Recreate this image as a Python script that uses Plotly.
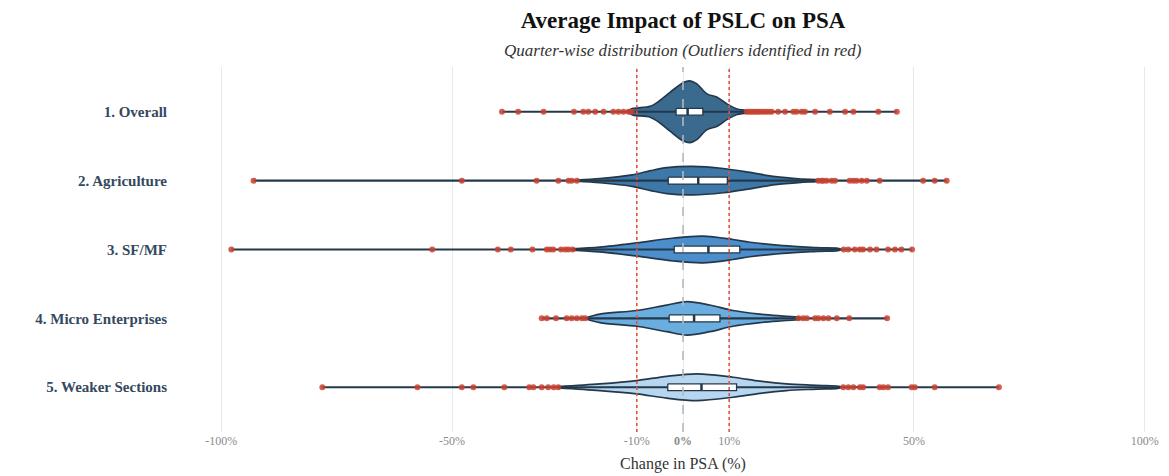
import plotly.graph_objects as go

# ---------------- data ----------------
categories = ["1. Overall", "2. Agriculture", "3. SF/MF", "4. Micro Enterprises", "5. Weaker Sections"]

q1_values = [-1.5, -3.2, -1.9, -3.0, -3.3]
median_values = [1.0, 3.3, 5.5, 2.4, 4.0]
q3_values = [4.3, 9.6, 12.3, 8.0, 11.6]

outliers_overall = [-39.2, -35.7, -30.2, -23.6, -21.6, -20.5, -19.0, -17.2, -15.1, -14.0, -12.9, -11.8, -11.1,
                    13.8, 14.3, 14.8, 15.3, 15.8, 16.3, 16.8, 17.4, 18.0, 18.6, 19.2,
                    20.6, 22.1, 23.9, 24.6, 25.7, 26.4, 28.6, 31.8, 35.1, 36.9, 42.3, 46.3]
outliers_agriculture = [-93.0, -47.9, -31.7, -27.0, -24.8, -24.1, -23.0,
                        29.3, 30.0, 30.4, 31.1, 32.2, 32.9, 36.1, 36.9, 37.6, 38.7, 39.8, 42.6, 52.0, 54.5, 57.1]
outliers_sfmf = [-97.8, -54.3, -40.1, -37.3, -32.6, -29.5, -28.8, -28.1, -26.4, -25.5, -24.8, -23.9,
                 34.8, 35.8, 37.2, 38.3, 39.0, 40.5, 41.9, 44.4, 45.9, 47.3, 49.6]
outliers_micro = [-30.6, -29.5, -27.5, -25.2, -24.1, -23.0, -21.9, -21.2,
                  25.0, 26.0, 26.8, 28.6, 29.3, 30.4, 31.5, 33.3, 36.0, 44.2]
outliers_weaker = [-78.1, -57.5, -47.9, -45.4, -38.7, -33.3, -32.4, -30.6, -29.2, -28.0, -27.0,
                   34.7, 35.8, 36.9, 38.3, 39.0, 42.6, 43.4, 44.4, 49.5, 50.2, 54.5, 68.4]
outliers = [outliers_overall, outliers_agriculture, outliers_sfmf, outliers_micro, outliers_weaker]

# violin density profiles (relative density)
density_x_overall = [-12.0, -10.8, -7.1, -5.0, -2.8, 0.0, 1.5, 3.0, 5.2, 7.4, 9.5, 11.7, 13.8]
density_overall = [0.02, 0.11, 0.18, 0.37, 0.64, 0.96, 1.02, 0.92, 0.59, 0.48, 0.26, 0.09, 0.03]
density_x_agriculture = [-23.0, -18.0, -11.0, -7.0, -3.5, 2.0, 8.7, 14.5, 20.0, 26.0, 29.3]
density_agriculture = [0.02, 0.07, 0.19, 0.33, 0.43, 0.47, 0.40, 0.27, 0.13, 0.05, 0.02]
density_x_sfmf = [-24.0, -18.0, -10.0, -2.0, 4.3, 10.8, 14.5, 21.6, 29.0, 34.0]
density_sfmf = [0.02, 0.08, 0.22, 0.38, 0.44, 0.33, 0.24, 0.13, 0.06, 0.02]
density_x_micro = [-21.0, -18.0, -10.0, -3.5, 0.9, 5.8, 10.8, 16.7, 22.4, 25.3]
density_micro = [0.02, 0.14, 0.26, 0.44, 0.55, 0.44, 0.26, 0.14, 0.07, 0.03]
density_x_weaker = [-27.0, -18.0, -10.0, -3.5, 3.0, 10.8, 16.7, 22.4, 29.0, 34.0]
density_weaker = [0.02, 0.11, 0.22, 0.36, 0.44, 0.33, 0.20, 0.11, 0.06, 0.02]
density_x = [density_x_overall, density_x_agriculture, density_x_sfmf, density_x_micro, density_x_weaker]
density = [density_overall, density_agriculture, density_sfmf, density_micro, density_weaker]

threshold_values = [-10, 10]
x_tick_values = [-100, -50, -10, 0, 10, 50, 100]
x_tick_labels = ["-100%", "-50%", "-10%", "<b>0%</b>", "10%", "50%", "100%"]

# ---------------- styling ----------------
FONT = "Liberation Serif, DejaVu Serif, serif"
fill_colors = ["#3b6a8f", "#3d78a8", "#4b8ecb", "#6aaddf", "#b7d7f0"]
outline = "#24384b"
red = "#c9412f"
width_scale = 0.44  # half-width (in row units) for density 1.0

# the page body adds an 8px offset, so the figure is sized for the remaining area
W, H = 1161, 468
PLOT_TOP, PLOT_H = 59, 365

fig = go.Figure()

for i, cat in enumerate(categories):
    xs = density_x[i]
    ds = density[i]
    upper = [i - d * width_scale for d in ds]
    lower = [i + d * width_scale for d in ds]
    fig.add_trace(go.Scatter(
        x=xs + xs[::-1], y=upper + lower[::-1],
        mode="lines", fill="toself", fillcolor=fill_colors[i],
        line=dict(color=outline, width=1.7, shape="spline", smoothing=0.9),
        hoverinfo="skip", showlegend=False))
    # whisker line across full range
    lo = min(outliers[i] + xs)
    hi = max(outliers[i] + xs)
    fig.add_trace(go.Scatter(
        x=[lo, hi], y=[i, i], mode="lines",
        line=dict(color=outline, width=2.2),
        hoverinfo="skip", showlegend=False))
    # box (IQR)
    bh = 0.05
    fig.add_trace(go.Scatter(
        x=[q1_values[i], q3_values[i], q3_values[i], q1_values[i], q1_values[i]],
        y=[i - bh, i - bh, i + bh, i + bh, i - bh],
        mode="lines", fill="toself", fillcolor="white",
        line=dict(color=outline, width=1.3),
        hoverinfo="skip", showlegend=False))
    # median
    fig.add_trace(go.Scatter(
        x=[median_values[i], median_values[i]], y=[i - bh, i + bh],
        mode="lines", line=dict(color=outline, width=2.5),
        hoverinfo="skip", showlegend=False))
    # outliers
    fig.add_trace(go.Scatter(
        x=outliers[i], y=[i] * len(outliers[i]), mode="markers",
        marker=dict(color=red, size=6, opacity=0.85),
        name=cat, showlegend=False))

# reference lines
for t in threshold_values:
    fig.add_vline(x=t, line=dict(color="#e0553f", width=1.6, dash="dot"), layer="above")
fig.add_vline(x=0, line=dict(color="#b5b9bd", width=1.6, dash="dash"), layer="above")

fig.update_layout(
    width=W, height=H,
    margin=dict(l=204, r=15, t=PLOT_TOP, b=H - PLOT_TOP - PLOT_H, autoexpand=False),
    paper_bgcolor="white", plot_bgcolor="white",
    font=dict(family=FONT, color="#333333"),
    title=dict(text="<b>Average Impact of PSLC on PSA</b>", x=0.5, xref="paper", xanchor="center",
               y=1 - 12 / H, yref="container", yanchor="middle",
               font=dict(size=23, color="#111111", family=FONT)),
    annotations=[dict(text="<i>Quarter-wise distribution (Outliers identified in red)</i>",
                      x=0.5, xref="paper", y=1 + 17 / PLOT_H, yref="paper",
                      xanchor="center", yanchor="middle", showarrow=False,
                      font=dict(size=17, color="#333333", family=FONT))],
    xaxis=dict(range=[-102, 102], tickvals=x_tick_values, ticktext=x_tick_labels,
               automargin=False,
               showgrid=True, gridcolor="#e9e9e9", gridwidth=1, zeroline=False,
               showline=False, ticks="", tickfont=dict(size=12, color="#8a8a8a", family=FONT),
               title=dict(text="Change in PSA (%)", font=dict(size=16, color="#333333", family=FONT),
                          standoff=10)),
    yaxis=dict(range=[4.65, -0.65], tickvals=list(range(len(categories))), ticktext=categories,
               automargin=False,
               showgrid=False, zeroline=False, showline=False, ticks="",
               ticklabelstandoff=44,
               tickfont=dict(size=15, color="#34495e", family=FONT, weight="bold")),
)

fig.write_html("out.html")
